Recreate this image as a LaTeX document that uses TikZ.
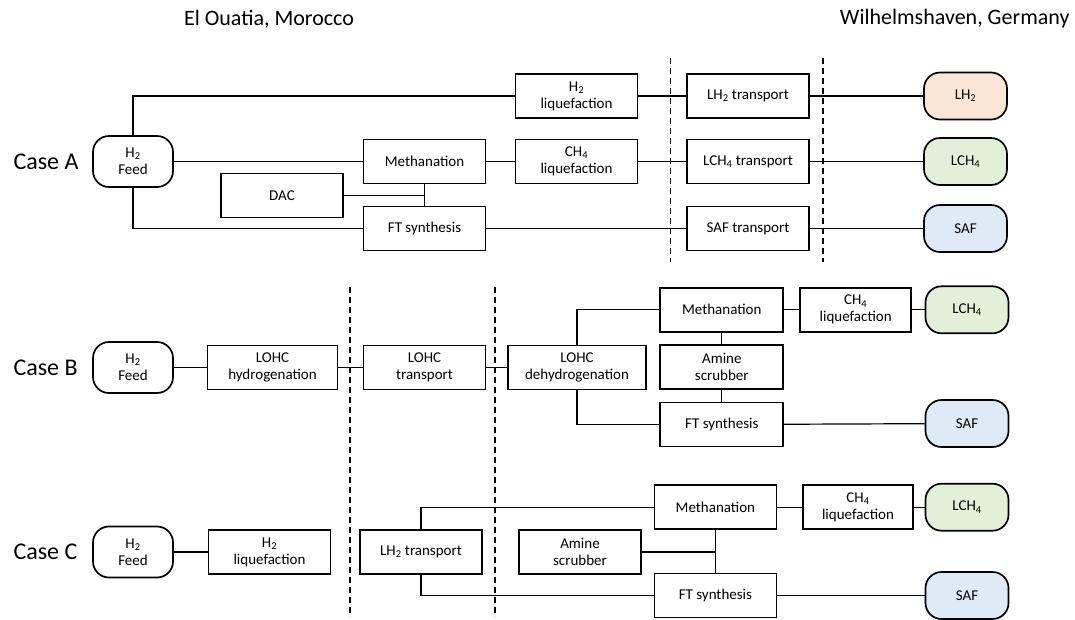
\documentclass[tikz,border=0pt]{standalone}
\usepackage{fontspec}
\setmainfont{Carlito}
\usepackage{xcolor}
\usepackage{tikz}
\usetikzlibrary{positioning}
\definecolor{lhtwo}{HTML}{FBE5D6}
\definecolor{lchfour}{HTML}{E2F0D9}
\definecolor{safblue}{HTML}{DEEBF7}
\newcommand{\lsub}[1]{\textsubscript{#1}}
\tikzset{
  unit/.style={draw,line width=1.7pt,minimum width=122pt,minimum height=44pt,inner sep=1pt,align=center,font=\fontsize{15}{17}\selectfont},
  feed/.style={unit,rounded corners=16pt,minimum width=80pt,minimum height=51pt},
  prod/.style={unit,rounded corners=16pt,minimum width=83pt,minimum height=47pt},
  link/.style={line width=1.2pt},
  border/.style={line width=1.4pt,dash pattern=on 6pt off 4pt},
  casename/.style={anchor=west,font=\fontsize{24}{28}\selectfont},
  site/.style={font=\fontsize{22}{26}\selectfont},
}

\begin{document}
\begin{tikzpicture}[x=1pt,y=-1pt]
    \useasboundingbox (0,0) rectangle (1075,619);
    \node[site] (morocco) at (269,19) {El Ouatia, Morocco};
    \node[site,anchor=east] (germany) at (1073,19) {Wilhelmshaven, Germany};
    % case A
    \node[casename] (caseA) at (10,161.5) {Case A};
    \node[feed] (feedA) at (133,161.5) {H\lsub{2}\\Feed};
    \node[unit] (liqHA) at (576.5,96) {H\lsub{2}\\liquefaction};
    \node[unit] (trHA) at (748,96) {LH\lsub{2} transport};
    \node[prod,fill=lhtwo] (lh2A) at (965.5,96) {LH\lsub{2}};
    \node[unit] (methA) at (424.5,161.5) {Methanation};
    \node[unit] (liqCA) at (576.5,161.5) {CH\lsub{4}\\liquefaction};
    \node[unit] (trCA) at (748,161.5) {LCH\lsub{4} transport};
    \node[prod,fill=lchfour] (lch4A) at (965.5,161.5) {LCH\lsub{4}};
    \node[unit] (dacA) at (282,195.5) {DAC};
    \node[unit] (ftA) at (424.5,228.5) {FT synthesis};
    \node[unit] (trSA) at (748,228.5) {SAF transport};
    \node[prod,fill=safblue] (safA) at (965.5,228.5) {SAF};
    \draw[link] (feedA.north) |- (liqHA.west);
    \draw[link] (liqHA) -- (trHA) -- (lh2A);
    \draw[link] (feedA) -- (methA) -- (liqCA) -- (trCA) -- (lch4A);
    \draw[link] (feedA.south) |- (ftA.west);
    \draw[link] (ftA) -- (trSA) -- (safA);
    \draw[link] (methA) -- (ftA);
    \draw[link] (dacA.east) -- (methA.south |- dacA.east);
    \foreach \x in {670.5,823} \draw[border] (\x,58) -- (\x,262);
    % case B
    \node[casename] (caseB) at (10,367.5) {Case B};
    \node[feed] (feedB) at (133,367.5) {H\lsub{2}\\Feed};
    \node[unit,minimum width=130pt] (hydB) at (272.5,367.5) {LOHC\\hydrogenation};
    \node[unit] (trB) at (424.5,367.5) {LOHC\\transport};
    \node[unit,minimum width=138pt] (dehB) at (577,367.5) {LOHC\\dehydrogenation};
    \node[unit,minimum width=123pt] (methB) at (721.8,309.8) {Methanation};
    \node[unit,minimum width=111pt] (liqCB) at (855.7,309.8) {CH\lsub{4}\\liquefaction};
    \node[prod,fill=lchfour] (lch4B) at (967,309.8) {LCH\lsub{4}};
    \node[unit,minimum width=123pt] (amB) at (721.8,367) {Amine\\scrubber};
    \node[unit,minimum width=123pt] (ftB) at (721.8,424.5) {FT synthesis};
    \node[prod,fill=safblue] (safB) at (967,423.5) {SAF};
    \draw[link] (feedB) -- (hydB) -- (trB) -- (dehB);
    \draw[link] (dehB.north) |- (methB.west);
    \draw[link] (dehB.south) |- (ftB.west);
    \draw[link] (methB) -- (liqCB) -- (lch4B);
    \draw[link] (methB) -- (amB) -- (ftB);
    \draw[link] (ftB) -- (safB);
    \foreach \x in {350,495} \draw[border] (\x,287) -- (\x,617);
    % case C
    \node[casename] (caseC) at (10,552) {Case C};
    \node[feed] (feedC) at (133,552) {H\lsub{2}\\Feed};
    \node[unit] (liqHC) at (269.5,552) {H\lsub{2}\\liquefaction};
    \node[unit] (trHC) at (421,552) {LH\lsub{2} transport};
    \node[unit] (methC) at (715.4,507.2) {Methanation};
    \node[unit,minimum width=110pt] (liqCC) at (858,507.2) {CH\lsub{4}\\liquefaction};
    \node[prod,fill=lchfour] (lch4C) at (967,507.2) {LCH\lsub{4}};
    \node[unit] (amC) at (580,552) {Amine\\scrubber};
    \node[unit] (ftC) at (715.4,595.5) {FT synthesis};
    \node[prod,fill=safblue] (safC) at (967,595.5) {SAF};
    \draw[link] (feedC) -- (liqHC);
    \draw[link] (trHC.north) |- (methC.west);
    \draw[link] (trHC.south) |- (ftC.west);
    \draw[link] (methC) -- (liqCC) -- (lch4C);
    \draw[link] (methC) -- (ftC);
    \draw[link] (amC.east) -- (methC.south |- amC.east);
    \draw[link] (ftC) -- (safC);
  \end{tikzpicture}
\end{document}
